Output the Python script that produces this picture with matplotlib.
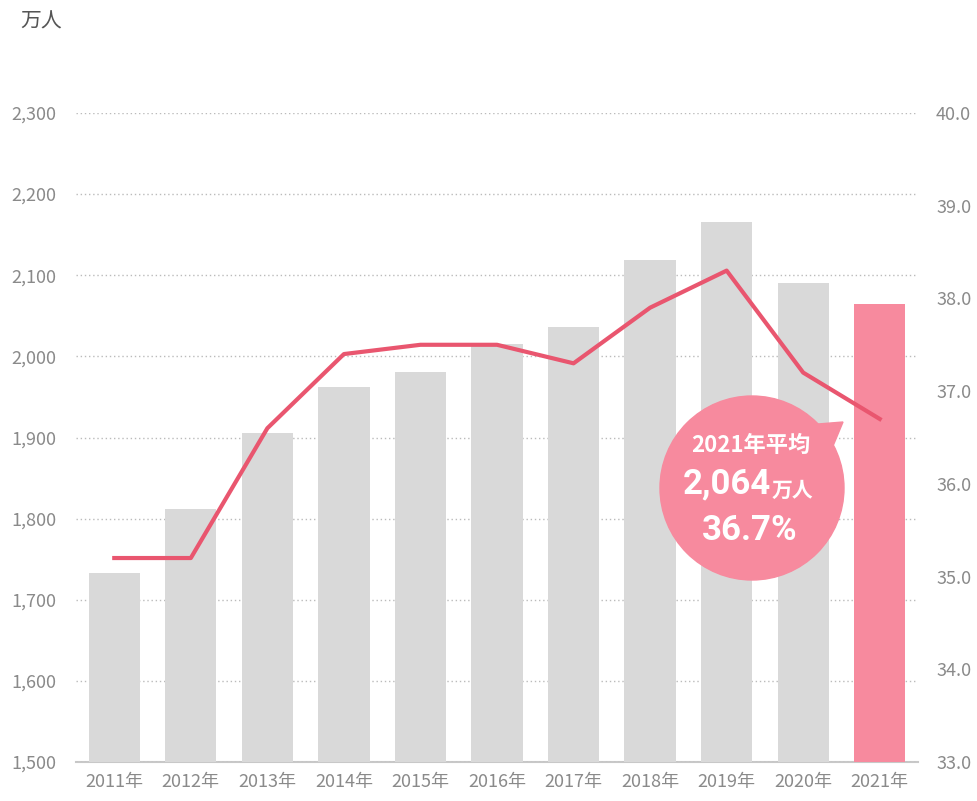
import numpy as np
import matplotlib
matplotlib.use('Agg')
import matplotlib.pyplot as plt
from matplotlib.patches import Circle, Polygon

plt.rcParams['font.family'] = ['Noto Sans CJK JP', 'DejaVu Sans']

years = ['2011年', '2012年', '2013年', '2014年', '2015年', '2016年',
         '2017年', '2018年', '2019年', '2020年', '2021年']
people = [1733, 1812, 1906, 1962, 1981, 2015, 2036, 2119, 2166, 2091, 2064]
ratio = [35.2, 35.2, 36.6, 37.4, 37.5, 37.5, 37.3, 37.9, 38.3, 37.2, 36.7]
left_ticks = [1500, 1600, 1700, 1800, 1900, 2000, 2100, 2200, 2300]
right_ticks = [33.0, 34.0, 35.0, 36.0, 37.0, 38.0, 39.0, 40.0]

gray = '#d9d9d9'
pink = '#f78a9e'
line_col = '#e9566f'
txt = '#8a8a8a'

fig = plt.figure(figsize=(9.78, 8.01), dpi=100)
ax = fig.add_axes([76/978, 1-762/801, 842/978, 649/801])
x = np.arange(len(years))
colors = [gray]*(len(years)-1) + [pink]
ax.bar(x, people, width=0.67, color=colors, zorder=2)
ax.set_xlim(-0.5, len(years)-0.5)
ax.set_ylim(1500, 2300)
ax.set_yticks(left_ticks)
ax.set_yticklabels([f'{v:,}' for v in left_ticks])
ax.set_xticks(x)
ax.set_xticklabels(years)
ax.grid(axis='y', linestyle=(0, (1, 2)), color='#bbbbbb', linewidth=1.0, zorder=0)
for s in ['top', 'left', 'right']:
    ax.spines[s].set_visible(False)
ax.spines['bottom'].set_color('#c8c8c8')
ax.spines['bottom'].set_linewidth(1.5)
ax.spines['bottom'].set_zorder(1)
ax.tick_params(axis='both', length=0, colors=txt, labelsize=13)
ax.tick_params(axis='y', pad=14)
ax.tick_params(axis='x', pad=8)

ax2 = ax.twinx()
ax2.plot(x, ratio, color=line_col, linewidth=3, zorder=3)
ax2.set_ylim(33, 40)
ax2.set_yticks(right_ticks)
ax2.set_yticklabels([f'{v:.1f}' for v in right_ticks])
for s in ax2.spines.values():
    s.set_visible(False)
ax2.tick_params(axis='y', length=0, colors=txt, labelsize=13, pad=13)

fig.text(20/978, 1-22/801, '万人', fontsize=15, color='#555555', va='center', ha='left')

# callout bubble in pixel coordinates
ov = fig.add_axes([0, 0, 1, 1])
ov.set_xlim(0, 978)
ov.set_ylim(801, 0)
ov.axis('off')
ov.patch.set_alpha(0)
bub = '#f78a9e'
ov.add_patch(Circle((752, 488), 92, color=bub, zorder=5))
ov.add_patch(Polygon([[818, 424], [843, 422], [833, 446]], closed=True, color=bub, zorder=5))
ov.text(751, 445, '2021年平均', color='white', fontsize=16, fontweight='bold',
        ha='center', va='center', zorder=6)
ov.text(727, 484, '2,064', color='white', fontsize=25, fontweight='bold',
        family=['Roboto', 'DejaVu Sans'], ha='center', va='center', zorder=6)
ov.text(792, 490, '万人', color='white', fontsize=15, fontweight='bold',
        ha='center', va='center', zorder=6)
ov.text(750, 530, '36.7%', color='white', fontsize=25, fontweight='bold',
        family=['Roboto', 'DejaVu Sans'], ha='center', va='center', zorder=6)

fig.savefig('out.png', dpi=100)
